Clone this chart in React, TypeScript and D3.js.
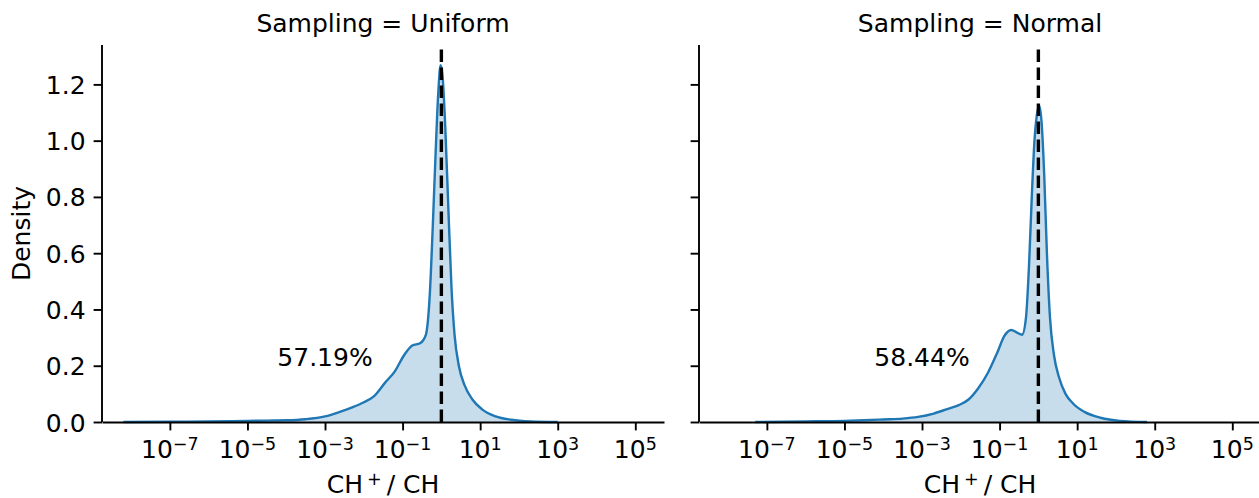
import React, { useEffect, useRef } from "react";
import * as d3 from "d3";

// facet titles and the annotated share in each panel
const samplings = ["Uniform", "Normal"];
const shareLabels = ["57.19%", "58.44%"];

// KDE of CH+/CH on a log grid (log10 of the ratio) and the density
const uniformLog = [-8.2, -7, -6, -5, -4.5, -4, -3.5, -3, -2.6, -2.3, -2.0, -1.75, -1.45, -1.2, -0.95, -0.75, -0.55, -0.4, -0.3, -0.22, -0.15, -0.08, -0.02, 0.03, 0.1, 0.18, 0.26, 0.34, 0.45, 0.6, 0.8, 1.05, 1.4, 1.8, 2.3, 3.0];
const uniformDensity = [0, 0.001, 0.002, 0.004, 0.005, 0.006, 0.01, 0.02, 0.037, 0.052, 0.07, 0.09, 0.14, 0.18, 0.24, 0.272, 0.28, 0.31, 0.45, 0.7, 0.95, 1.17, 1.268, 1.23, 1.05, 0.76, 0.48, 0.31, 0.2, 0.13, 0.08, 0.045, 0.02, 0.008, 0.002, 0];

const normalLog = [-7.3, -6, -5, -4.5, -4, -3.5, -3.1, -2.7, -2.35, -2.05, -1.8, -1.55, -1.3, -1.05, -0.88, -0.7, -0.55, -0.42, -0.32, -0.24, -0.17, -0.1, -0.04, 0.02, 0.08, 0.15, 0.22, 0.3, 0.4, 0.53, 0.7, 0.9, 1.2, 1.6, 2.1, 2.8];
const normalDensity = [0, 0.002, 0.004, 0.006, 0.009, 0.012, 0.018, 0.03, 0.046, 0.06, 0.08, 0.12, 0.175, 0.25, 0.305, 0.327, 0.318, 0.31, 0.37, 0.56, 0.8, 1.0, 1.09, 1.124, 1.07, 0.88, 0.6, 0.37, 0.24, 0.16, 0.1, 0.065, 0.035, 0.015, 0.004, 0];

const xTickExponents = [-7, -5, -3, -1, 1, 3, 5];
const yTicks = [0, 0.2, 0.4, 0.6, 0.8, 1.0, 1.2];

const FONT = "DejaVu Sans";
const FS = 25;

export default function App() {
  const ref = useRef<SVGSVGElement>(null);

  useEffect(() => {
    const svg = d3.select(ref.current);
    svg.selectAll("*").remove();

    const top = 45,
      bottom = 422;
    const panelLeft = [102, 699];
    const panelWidth = 562;

    const y = d3.scaleLinear().domain([0, 1.34]).range([bottom, top]);

    const series = [
      { logs: uniformLog, dens: uniformDensity },
      { logs: normalLog, dens: normalDensity },
    ];

    series.forEach((s, i) => {
      const x = d3
        .scaleLog()
        .domain([Math.pow(10, -8.75), Math.pow(10, 5.74)])
        .range([panelLeft[i], panelLeft[i] + panelWidth]);
      const g = svg.append("g");
      const pts: [number, number][] = s.logs.map((e, k) => [Math.pow(10, e), s.dens[k]]);

      const area = d3
        .area<[number, number]>()
        .x((d) => x(d[0]))
        .y0(y(0))
        .y1((d) => y(d[1]))
        .curve(d3.curveMonotoneX);
      const line = d3
        .line<[number, number]>()
        .x((d) => x(d[0]))
        .y((d) => y(d[1]))
        .curve(d3.curveMonotoneX);

      g.append("path").attr("d", area(pts)).attr("fill", "#1f77b4").attr("fill-opacity", 0.25);
      g.append("path")
        .attr("d", line(pts))
        .attr("fill", "none")
        .attr("stroke", "#1f77b4")
        .attr("stroke-width", 2.4);

      // reference line at ratio = 1
      g.append("line")
        .attr("x1", x(1))
        .attr("x2", x(1))
        .attr("y1", y(0))
        .attr("y2", top)
        .attr("stroke", "black")
        .attr("stroke-width", 3.4)
        .attr("stroke-dasharray", "12.6,5.4");

      // x axis
      const xAxis = g
        .append("g")
        .attr("transform", `translate(0,${bottom})`)
        .call(
          d3
            .axisBottom(x)
            .tickValues(xTickExponents.map((e) => Math.pow(10, e)))
            .tickSize(8.4)
            .tickSizeOuter(0)
            .tickFormat(() => "")
        );
      xAxis.selectAll("path,line").attr("stroke", "black").attr("stroke-width", 1.9);
      xAxis.selectAll("text").remove();
      xTickExponents.forEach((e) => {
        const t = g
          .append("text")
          .attr("x", x(Math.pow(10, e)))
          .attr("y", 458)
          .attr("text-anchor", "middle")
          .attr("font-family", FONT)
          .attr("font-size", FS);
        t.append("tspan").text("10");
        t.append("tspan")
          .attr("font-size", 17.5)
          .attr("dy", -8.5)
          .text((e < 0 ? "\u2212" : "") + Math.abs(e));
      });

      // y axis
      const yAxis = g
        .append("g")
        .attr("transform", `translate(${panelLeft[i]},0)`)
        .call(
          d3
            .axisLeft(y)
            .tickValues(yTicks)
            .tickSize(8.4)
            .tickSizeOuter(0)
            .tickPadding(8)
            .tickFormat((d) => (i === 0 ? d3.format(".1f")(d as number) : ""))
        );
      yAxis.select(".domain").attr("d", `M0,${top}V${bottom}`);
      yAxis.selectAll("path,line").attr("stroke", "black").attr("stroke-width", 1.9);
      yAxis
        .selectAll("text")
        .attr("font-family", FONT)
        .attr("font-size", FS)
        .attr("fill", "black")
        .attr("dy", "0.36em");

      // annotation
      g.append("text")
        .attr("x", x(1e-3))
        .attr("y", y(0.2))
        .attr("text-anchor", "middle")
        .attr("font-family", FONT)
        .attr("font-size", FS)
        .text(shareLabels[i]);

      const cx = panelLeft[i] + panelWidth / 2;
      // facet title
      g.append("text")
        .attr("x", cx)
        .attr("y", 31.5)
        .attr("text-anchor", "middle")
        .attr("font-family", FONT)
        .attr("font-size", FS)
        .text(`Sampling = ${samplings[i]}`);

      // x label
      const xl = g
        .append("text")
        .attr("x", cx)
        .attr("y", 493)
        .attr("text-anchor", "middle")
        .attr("font-family", FONT)
        .attr("font-size", FS);
      xl.append("tspan").text("CH");
      xl.append("tspan").attr("dx", 4).attr("dy", -8.5).attr("font-size", 17.5).text("+");
      xl.append("tspan").attr("dy", 8.5).text("\u2009/ CH");
    });

    svg
      .append("text")
      .attr("transform", `translate(30,${(top + bottom) / 2}) rotate(-90)`)
      .attr("text-anchor", "middle")
      .attr("font-family", FONT)
      .attr("font-size", FS)
      .text("Density");
  }, []);

  return (
    <svg
      ref={ref}
      width={1259}
      height={498}
      style={{ position: "absolute", left: 0, top: 0, background: "white" }}
    />
  );
}
